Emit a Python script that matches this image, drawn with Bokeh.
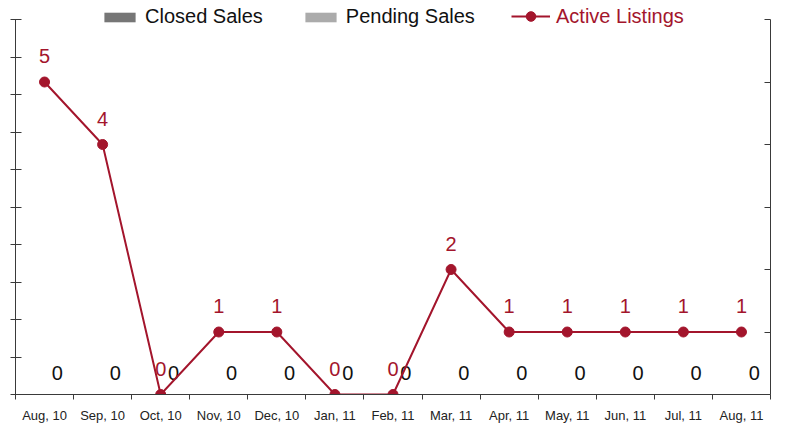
from bokeh.plotting import figure
from bokeh.models import (ColumnDataSource, Range1d, LinearAxis, FixedTicker,
                          Legend, LegendItem)
from bokeh.transform import dodge
from bokeh.embed import file_html
from bokeh.resources import INLINE
from bokeh.core.properties import value

months = ["Aug, 10", "Sep, 10", "Oct, 10", "Nov, 10", "Dec, 10", "Jan, 11", "Feb, 11",
          "Mar, 11", "Apr, 11", "May, 11", "Jun, 11", "Jul, 11", "Aug, 11"]
closed_sales = [0, 0, 0, 0, 0, 0, 0, 0, 0, 0, 0, 0, 0]
pending_sales = [0, 0, 0, 0, 0, 0, 0, 0, 0, 0, 0, 0, 0]
active_listings = [5, 4, 0, 1, 1, 0, 0, 2, 1, 1, 1, 1, 1]
sales_ticks = list(range(0, 11))
listing_ticks = list(range(0, 7))

RED = "#A3152C"
FONT = "Liberation Sans"
AXIS = "#3a3a3a"

# frame geometry: top of frame sits 14px above the top tick (room for legend)
TOP_PAD = 14.0 / 375.0

idx = list(range(len(months)))
src = ColumnDataSource(dict(
    x=idx, month=months, closed=closed_sales, pending=pending_sales,
    active=active_listings,
    pending_lbl=[str(v) for v in pending_sales],
    active_lbl=[str(v) for v in active_listings],
))

p = figure(width=772, height=425, output_backend="svg", toolbar_location=None,
           x_range=Range1d(-0.5, len(months) - 0.5),
           y_range=Range1d(sales_ticks[0], sales_ticks[-1] * (1 + TOP_PAD)),
           min_border_left=15, min_border_right=2, min_border_top=5,
           min_border_bottom=30, x_axis_location=None, y_axis_location=None)
p.outline_line_color = None
p.xgrid.visible = False
p.ygrid.visible = False
p.extra_y_ranges = {"listings": Range1d(listing_ticks[0], listing_ticks[-1] * (1 + TOP_PAD))}

# bottom axis: labels at category centres, ticks at boundaries
xa = LinearAxis(ticker=FixedTicker(ticks=idx,
                                   minor_ticks=[i - 0.5 for i in range(len(months) + 1)]))
xa.major_label_overrides = {i: m for i, m in zip(idx, months)}
xa.major_tick_in = 0
xa.major_tick_out = 0
xa.minor_tick_in = 0
xa.minor_tick_out = 5
xa.minor_tick_line_color = AXIS
xa.axis_line_color = AXIS
xa.axis_label_standoff = 0
xa.major_label_text_font = FONT
xa.major_label_text_font_size = "13px"
xa.major_label_text_color = "#222222"
xa.major_label_standoff = 8
p.add_layout(xa, "below")

# left axis (sales), no labels
ya = LinearAxis(ticker=FixedTicker(ticks=sales_ticks),
                bounds=(sales_ticks[0], sales_ticks[-1]))
ya.major_label_overrides = {t: "" for t in sales_ticks}
ya.major_label_standoff = 0
ya.axis_label_standoff = 0
ya.major_tick_in = 6
ya.major_tick_out = 5
ya.major_tick_line_color = AXIS
ya.minor_tick_line_color = None
ya.axis_line_color = AXIS
p.add_layout(ya, "left")

# right axis (listings), no labels
yr = LinearAxis(y_range_name="listings", ticker=FixedTicker(ticks=listing_ticks),
                bounds=(listing_ticks[0], listing_ticks[-1]))
yr.major_label_overrides = {t: "" for t in listing_ticks}
yr.major_label_standoff = 0
yr.axis_label_standoff = 0
yr.major_tick_in = 6
yr.major_tick_out = 0
yr.major_tick_line_color = AXIS
yr.minor_tick_line_color = None
yr.axis_line_color = AXIS
p.add_layout(yr, "right")

# bars (all zero)
b1 = p.vbar(x=dodge("x", -0.2), top="closed", width=0.35, source=src,
            fill_color="#767676", line_color=None)
b2 = p.vbar(x=dodge("x", 0.2), top="pending", width=0.35, source=src,
            fill_color="#ABABAB", line_color=None)
p.text(x=dodge("x", 0.22), y="pending", text="pending_lbl", source=src,
       text_align="center", text_baseline="middle", y_offset=-22,
       text_font=value(FONT), text_font_size="20px", text_color="#111111")

# active listings line
ln = p.line(x="x", y="active", source=src, y_range_name="listings",
            line_color=RED, line_width=2)
sc = p.scatter(x="x", y="active", source=src, y_range_name="listings",
               size=10, fill_color=RED, line_color=RED)
p.text(x="x", y="active", text="active_lbl", source=src, y_range_name="listings",
       text_align="center", text_baseline="middle", y_offset=-26,
       text_font=value(FONT), text_font_size="20px", text_color=RED)

leg1 = Legend(items=[LegendItem(label="Closed Sales", renderers=[b1]),
                     LegendItem(label="Pending Sales", renderers=[b2])],
              orientation="horizontal", location=(85, 366),
              padding=0, margin=0, spacing=38, label_standoff=6,
              glyph_width=39, glyph_height=12, label_height=20,
              label_text_font=FONT, label_text_font_size="20px",
              label_text_color="#111111", background_fill_alpha=0,
              border_line_color=None)
leg2 = Legend(items=[LegendItem(label="Active Listings", renderers=[ln, sc])],
              orientation="horizontal", location=(496, 366),
              padding=0, margin=0, label_standoff=6,
              glyph_width=39, glyph_height=24, label_height=20,
              label_text_font=FONT, label_text_font_size="20px",
              label_text_color=RED, background_fill_alpha=0,
              border_line_color=None)
p.add_layout(leg1, "center")
p.add_layout(leg2, "center")

open("out.html", "w").write(file_html(p, INLINE))
